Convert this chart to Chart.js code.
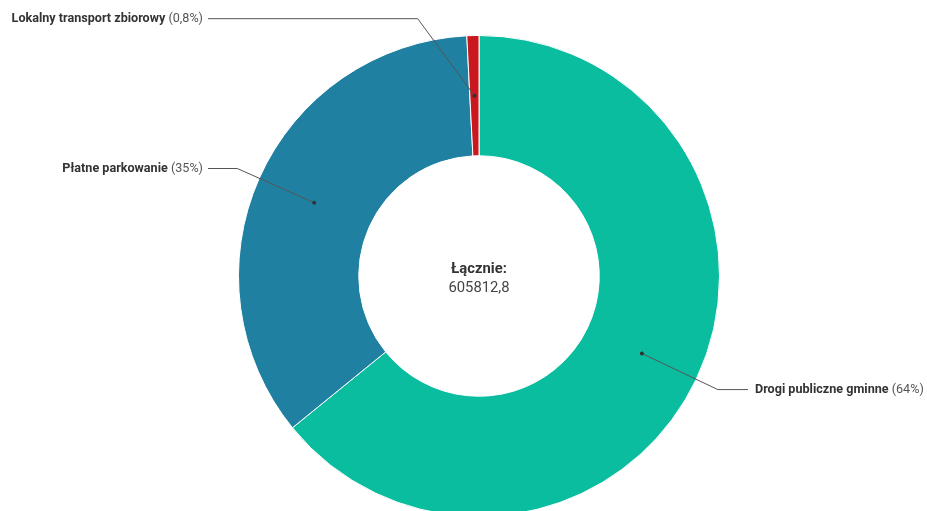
<!DOCTYPE html>
<html>
<head>
<meta charset="utf-8">
<script src="https://cdn.jsdelivr.net/npm/chart.js@4.4.0/dist/chart.umd.min.js"></script>
<style>
    html, body { margin: 0; padding: 0; background: #fff; overflow: hidden; }
    #box { width: 927px; height: 530px; position: relative; }
</style>
</head>
<body>
<div id="box"><canvas id="wykres"></canvas></div>
<script>
// dane wykresu
const kategorie = ["Drogi publiczne gminne", "Płatne parkowanie", "Lokalny transport zbiorowy"]
const wartosci = [388512.8, 212400.0, 4900.0]
const kolory = ["#0bbd9f", "#1f80a1", "#c9191e"]
const tytulSrodek = "Łącznie:"

const suma = wartosci.reduce((a, b) => a + b, 0)

function formatProcent(v) {
    const p = v / suma * 100
    const txt = p < 1 ? p.toFixed(1) : Math.round(p).toString()
    return "(" + txt.replace(".", ",") + "%)"
}

// etykiety z liniami (jak w highcharts)
const etykietyPlugin = {
    id: "etykiety",
    afterDraw(chart) {
        const ctx = chart.ctx
        const meta = chart.getDatasetMeta(0)
        ctx.save()
        meta.data.forEach((arc, i) => {
            const p = arc.getProps(["x", "y", "startAngle", "endAngle", "innerRadius", "outerRadius"], true)
            const kat = (p.startAngle + p.endAngle) / 2
            const rMid = (p.innerRadius + p.outerRadius) / 2
            const dx = p.x + Math.cos(kat) * rMid
            const dy = p.y + Math.sin(kat) * rMid

            const rL = p.outerRadius + 24
            let ey = p.y + Math.sin(kat) * rL
            const prawa = Math.cos(kat) >= 0
            if (ey < 18.7) ey = 18.7
            const ex = p.x + (prawa ? 1 : -1) * Math.sqrt(Math.max(0, rL * rL - (ey - p.y) * (ey - p.y)))

            const koniecX = prawa ? 748 : 208

            ctx.strokeStyle = "#555"
            ctx.lineWidth = 1
            ctx.beginPath()
            ctx.moveTo(dx, dy)
            ctx.lineTo(ex, ey)
            ctx.lineTo(koniecX, ey)
            ctx.stroke()

            ctx.fillStyle = "#333"
            ctx.beginPath()
            ctx.arc(dx, dy, 2, 0, Math.PI * 2)
            ctx.fill()

            const nazwa = kategorie[i] + " "
            const proc = formatProcent(wartosci[i])
            ctx.textBaseline = "middle"
            ctx.font = "bold 12.6px Roboto"
            const wN = ctx.measureText(nazwa).width
            ctx.font = "12.6px Roboto"
            const wP = ctx.measureText(proc).width
            let tx = prawa ? 755 : 203 - wN - wP
            ctx.textAlign = "left"
            ctx.font = "bold 12.6px Roboto"
            ctx.fillStyle = "#333"
            ctx.fillText(nazwa, tx, ey)
            ctx.font = "12.6px Roboto"
            ctx.fillStyle = "#555"
            ctx.fillText(proc, tx + wN, ey)
        })

        // tekst w srodku
        const a0 = meta.data[0]
        ctx.textAlign = "center"
        ctx.textBaseline = "middle"
        ctx.fillStyle = "#333"
        ctx.font = "bold 14.8px Roboto"
        ctx.fillText(tytulSrodek, a0.x, a0.y - 7)
        ctx.font = "14.8px Roboto"
        ctx.fillStyle = "#444"
        ctx.fillText(suma.toFixed(1).replace(".", ","), a0.x, a0.y + 12)
        ctx.restore()
    }
}

new Chart(document.getElementById("wykres"), {
    type: "doughnut",
    data: {
        labels: kategorie,
        datasets: [{
            data: wartosci,
            backgroundColor: kolory,
            borderColor: "#ffffff",
            borderWidth: 1
        }]
    },
    options: {
        responsive: true,
        maintainAspectRatio: false,
        animation: false,
        cutout: "50%",
        layout: { padding: { top: 35, bottom: 13, left: 238, right: 207 } },
        plugins: {
            legend: { display: false },
            tooltip: { enabled: false }
        }
    },
    plugins: [etykietyPlugin]
})
</script>
</body>
</html>
